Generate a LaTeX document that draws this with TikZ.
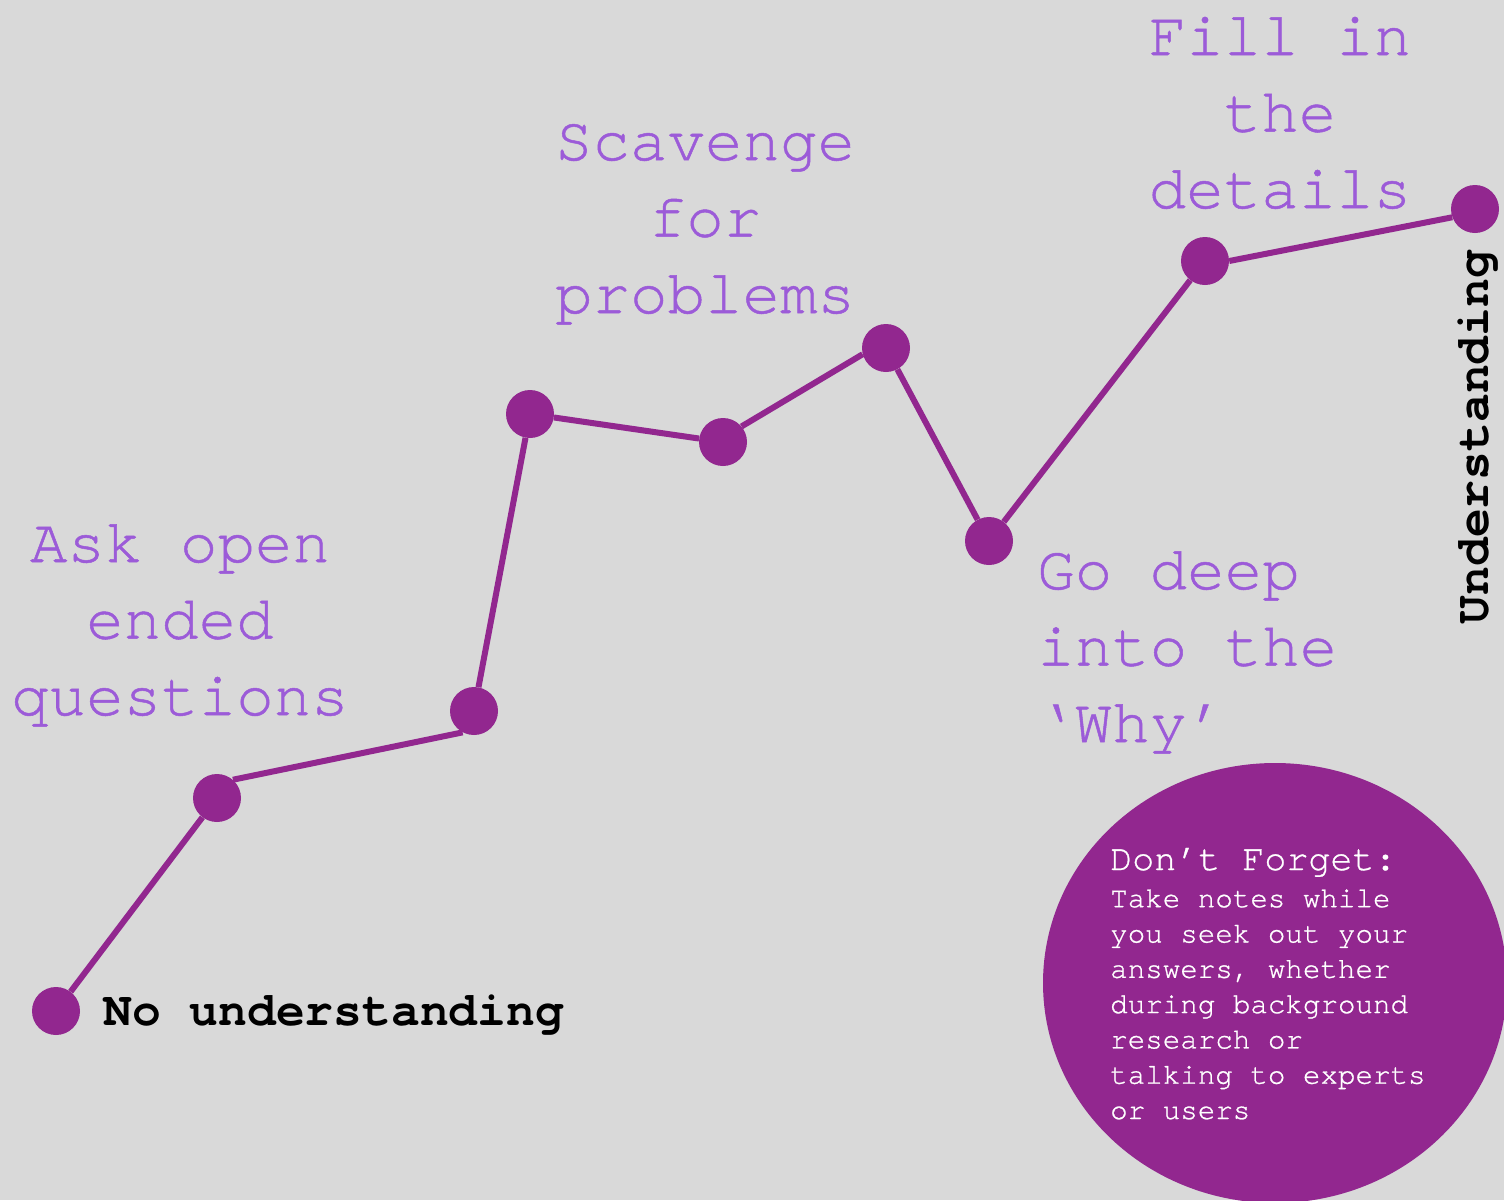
\documentclass[tikz,border=0pt]{standalone}
\usepackage{fontspec}
\usetikzlibrary{shapes.geometric}
\newfontfamily\mono[Extension=.otf,UprightFont=texgyrecursor-regular,BoldFont=texgyrecursor-bold,FakeBold=0.8]{texgyrecursor}
\newfontfamily\monobold[Extension=.otf,UprightFont=texgyrecursor-bold]{texgyrecursor}
\definecolor{bg}{HTML}{D9D9D9}
\definecolor{plum}{HTML}{92278F}
\definecolor{lav}{HTML}{9C5BD8}
\begin{document}
\begin{tikzpicture}[x=1pt,y=-1pt,
  dot/.style={circle,fill=plum,minimum size=48pt,inner sep=0pt},
  link/.style={plum,line width=6pt},
  stage/.style={text=lav,font=\mono\fontsize{62.5}{76.5}\selectfont,inner sep=0pt},
  endlabel/.style={text=black,font=\monobold\fontsize{48}{50}\selectfont,inner sep=0pt},
  note/.style={text=white,font=\mono\fontsize{29.2}{35.3}\selectfont,inner sep=0pt,align=left}]
  % canvas
  \fill[bg] (0,0) rectangle (1504,1200);
  \useasboundingbox (0,0) rectangle (1504,1200);

  % reminder blob, cut off by the page edge
  \begin{scope}
    \clip (0,0) rectangle (1504,1200);
    \node[ellipse,fill=plum,minimum width=464pt,minimum height=440pt,inner sep=0pt] (blob) at (1275,983) {};
  \end{scope}

  % path of understanding
  \node[dot] (p1) at (56,1011) {};
  \node[dot] (p2) at (217,798) {};
  \node[dot] (p3) at (474,711) {};
  \node[dot] (p4) at (530,414) {};
  \node[dot] (p5) at (723,442) {};
  \node[dot] (p6) at (886,348) {};
  \node[dot] (p7) at (989,541) {};
  \node[dot] (p8) at (1205,261) {};
  \node[dot] (p9) at (1475,209) {};
  \draw[link] (p1) -- (p2);
  \draw[link] (p2.49) -- (p3.242);
  \draw[link] (p3) -- (p4);
  \draw[link] (p4) -- (p5);
  \draw[link] (p5.40) -- (p6.195);
  \draw[link] (p6) -- (p7);
  \draw[link] (p7) -- (p8);
  \draw[link] (p8.0) -- (p9.200);

  % stage labels (base anchor sits on the last line)
  \node[stage,align=center,anchor=base] (ask) at (180,715) {Ask open\\ended\\questions};
  \node[stage,align=center,anchor=base] (scav) at (705,313) {Scavenge\\for\\problems};
  \node[stage,align=center,anchor=base] (fill) at (1280,208) {Fill in\\the\\details};
  \node[stage,align=left,anchor=base west] (deep) at (1037,742) {Go deep\\into the\\‘Why’};

  % end points
  \node[endlabel,anchor=base west] (start) at (103,1025) {No understanding};
  \node[endlabel,rotate=90,anchor=center] (goal) at (1478,437) {Understanding};

  % reminder text
  \node[text=white,font=\mono\fontsize{36.7}{40}\selectfont,inner sep=0pt,anchor=base west] (dtitle) at (1110,870) {Don’t Forget:};
  \node[note,anchor=base west] (dbody) at (1110,1119) {Take notes while\\you seek out your\\answers, whether\\during background\\research or\\talking to experts\\or users};
\end{tikzpicture}
\end{document}
